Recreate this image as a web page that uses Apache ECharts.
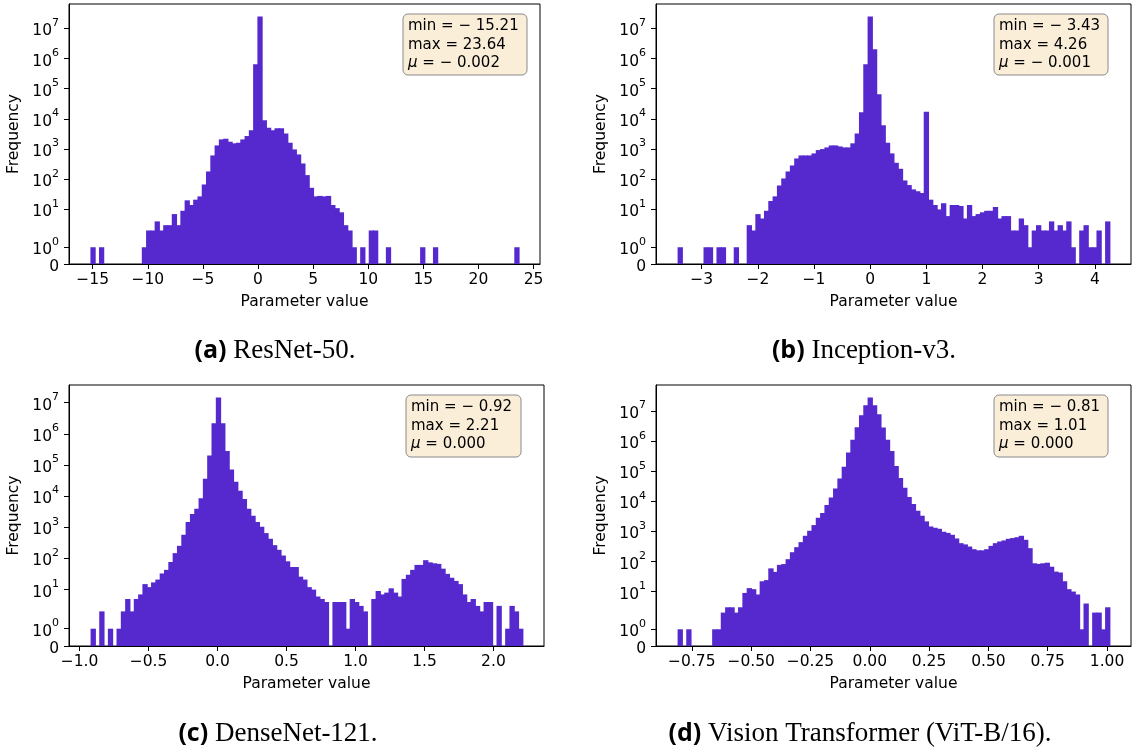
<!DOCTYPE html>
<html>
<head>
<meta charset="utf-8">
<title>Parameter value histograms</title>
<script src="https://cdn.jsdelivr.net/npm/echarts@6/dist/echarts.min.js"></script>
<style>
    html, body { margin: 0; padding: 0; background: #fff; }
    #main { width: 1132px; height: 754px; }
</style>
</head>
<body>
<div id="main"></div>
<script>
// (a) ResNet-50, 100 bins between min and max
var resnetRange = [-15.21, 23.64];
var resnetCounts = [
    1, 0, 1, 0, 0, 0, 0, 0, 0, 0, 0, 0,
    1, 2, 2, 4, 2, 3, 3, 7, 3, 9, 20, 14, 21, 27, 67, 181, 615, 1320,
    2090, 2200, 1750, 1550, 1620, 2090, 2700, 4170, 650000, 25000000,
    8950, 5100, 4170, 4900, 4900, 3310, 1620, 973, 663, 333, 137, 52,
    27, 28, 27, 28, 14, 11, 8, 3, 2, 1,
    0, 1, 0, 2, 2, 0, 0, 1, 0, 0,
    0, 0, 0, 0, 0, 1, 0, 0, 1, 0,
    0, 0, 0, 0, 0, 0, 0, 0, 0, 0,
    0, 0, 0, 0, 0, 0, 0, 1
];
var resnetTicks = [-15, -10, -5, 0, 5, 10, 15, 20, 25];
var resnetStats = ['min = \u2212 15.21', 'max = 23.64', '= \u2212 0.002'];

// (b) Inception-v3
var inceptionRange = [-3.43, 4.26];
var inceptionCounts = [
    1, 0, 0, 0, 0, 0, 1, 1, 0, 1, 1, 0, 0, 1, 0, 0,
    3, 2, 7, 5, 9, 19, 27, 62, 106, 181, 286, 489, 615, 615,
    615, 718, 925, 1000, 1135, 1320, 1320, 1220, 1135, 1135,
    1550, 3310, 16500, 650000, 25000000,
    2050000, 65000, 6100, 1620, 718, 351, 222, 91, 64, 46, 40, 35, 17400,
    21, 14, 10, 16, 6, 14, 14, 13, 5, 14, 6, 7, 8, 9, 9, 12, 5, 6, 6,
    2, 2, 5, 3, 1, 2, 3, 2, 2, 4, 2, 3, 2, 4, 1, 0, 2, 3, 1, 1, 2, 0, 4
];
var inceptionTicks = [-3, -2, -1, 0, 1, 2, 3, 4];
var inceptionStats = ['min = \u2212 3.43', 'max = 4.26', '= \u2212 0.001'];

// (c) DenseNet-121
var densenetRange = [-0.92, 2.21];
var densenetCounts = [
    1, 0, 2, 0, 1, 0, 1, 2, 5, 2, 5, 7, 15, 12, 17, 21, 33, 43, 77, 148,
    254, 575, 1475, 2670, 3960, 8550, 35900, 203000, 2200000, 14700000,
    2200000, 280000, 72000, 28700, 15000, 8100, 3900, 2360, 1475, 1040,
    652, 428, 267, 189, 124, 81, 53, 53, 26, 21,
    12, 10, 6, 5, 4, 0, 4, 4, 4, 1, 5, 4, 3, 2, 0, 5, 9, 7, 8, 11,
    8, 6, 22, 30, 43, 62, 62, 88, 75, 70, 67, 47, 32, 24, 19, 15, 7, 4, 5, 3,
    2, 4, 4, 0, 3, 0, 1, 3, 2, 1
];
var densenetTicks = [-1, -0.5, 0, 0.5, 1, 1.5, 2];
var densenetStats = ['min = \u2212 0.92', 'max = 2.21', '= 0.000'];

// (d) ViT-B/16
var vitRange = [-0.81, 1.01];
var vitCounts = [
    1, 0, 1, 0, 0, 0, 0, 0, 1, 1, 2, 3, 3, 2, 3, 9, 13, 12, 8, 22,
    24, 59, 45, 77, 82, 119, 203, 299, 439, 714,
    1050, 1620, 2850, 4080, 7550, 13300, 26500, 57000, 140000, 420000,
    1120000, 2900000, 7300000, 15700000, 28400000,
    15700000, 7900000, 2850000, 1120000, 470000, 148000, 60000, 28000, 14000, 8150,
    4880, 3320, 2150, 1460, 1320, 1220, 973, 890, 770, 582,
    406, 370, 314, 256, 235, 235, 256, 330, 406, 462,
    500, 568, 600, 640, 714, 525, 277, 87, 83, 87,
    91, 67, 46, 43, 22, 12, 10, 8, 1, 4, 0, 2, 2, 1, 3
];
var vitTicks = [-0.75, -0.5, -0.25, 0, 0.25, 0.5, 0.75, 1];
var vitStats = ['min = \u2212 0.81', 'max = 1.01', '= 0.000'];

var freqTicks = [0, 1, 10, 100, 1e3, 1e4, 1e5, 1e6, 1e7];
var freqLabels = ['{n|0}', '{n|10}{s|0}', '{n|10}{s|1}', '{n|10}{s|2}', '{n|10}{s|3}',
    '{n|10}{s|4}', '{n|10}{s|5}', '{n|10}{s|6}', '{n|10}{s|7}'];

var BAR_COLOR = '#5629ce';
var FONT = 'DejaVu Sans';
var FS = 15.5;

// symlog y scale (linthresh 2, linscale 1)
var LINTHRESH = 2;
var LINSCALE_ADJ = 1 / (1 - 1 / 10);
function symlog(v) {
    if (v <= LINTHRESH) return v * LINSCALE_ADJ;
    return LINTHRESH * (LINSCALE_ADJ + Math.log10(v / LINTHRESH));
}

function histData(counts, range) {
    var w = (range[1] - range[0]) / counts.length;
    var out = [];
    for (var i = 0; i < counts.length; i++) {
        if (!counts[i]) continue;
        out.push([range[0] + i * w, range[0] + (i + 1) * w, symlog(counts[i]), counts[i]]);
    }
    return out;
}

function fmtTick(v, dec) {
    var s = Math.abs(v).toFixed(dec);
    return (v < 0 ? '\u2212' : '') + s;
}

function renderBin(params, api) {
    var top = api.coord([api.value(0), api.value(2)]);
    var bottom = api.coord([api.value(1), 0]);
    // overlap the next bin by a pixel so no seams show
    return {
        type: 'rect',
        shape: {x: top[0], y: top[1], width: bottom[0] - top[0] + 1, height: bottom[1] - top[1]},
        style: {fill: BAR_COLOR}
    };
}

var panels = [
    {counts: resnetCounts, range: resnetRange, ticks: resnetTicks, dec: 0, stats: resnetStats,
        grid: {left: 69, top: 4, width: 471, height: 260}, box: [403, 14, 124, 61],
        caption: ['(a)', 'ResNet-50.'], capPos: [275, 351]},
    {counts: inceptionCounts, range: inceptionRange, ticks: inceptionTicks, dec: 0, stats: inceptionStats,
        grid: {left: 656, top: 4, width: 475, height: 260}, box: [994, 14, 114, 61],
        caption: ['(b)', 'Inception-v3.'], capPos: [864, 351]},
    {counts: densenetCounts, range: densenetRange, ticks: densenetTicks, dec: 1, stats: densenetStats,
        grid: {left: 69, top: 385, width: 475, height: 261}, box: [406, 395, 115, 62],
        caption: ['(c)', 'DenseNet-121.'], capPos: [278, 734]},
    {counts: vitCounts, range: vitRange, ticks: vitTicks, dec: 2, stats: vitStats,
        grid: {left: 656, top: 385, width: 475, height: 261}, box: [994, 395, 114, 62],
        caption: ['(d)', 'Vision Transformer (ViT-B/16).'], capPos: [860, 734]}
];

var grids = [], xAxes = [], yAxes = [], series = [], graphics = [];
var freqTickPos = freqTicks.map(symlog);

panels.forEach(function (p, i) {
    var span = p.range[1] - p.range[0];
    var maxCount = Math.max.apply(null, p.counts);
    grids.push({
        left: p.grid.left, top: p.grid.top, width: p.grid.width, height: p.grid.height,
        show: true, borderColor: '#000', borderWidth: 1, backgroundColor: 'transparent'
    });
    xAxes.push({
        type: 'value', gridIndex: i,
        min: p.range[0] - 0.05 * span,
        max: p.range[1] + 0.05 * span,
        name: 'Parameter value', nameLocation: 'middle', nameGap: 30,
        nameTextStyle: {fontFamily: FONT, fontSize: FS, color: '#000'},
        axisLine: {onZero: false, lineStyle: {color: '#000', width: 1}},
        axisTick: {length: 5, customValues: p.ticks, lineStyle: {color: '#000'}},
        axisLabel: {
            customValues: p.ticks, margin: 8, fontFamily: FONT, fontSize: FS, color: '#000',
            formatter: (function (dec) { return function (v) { return fmtTick(v, dec); }; })(p.dec)
        },
        splitLine: {show: false}
    });
    yAxes.push({
        type: 'value', gridIndex: i,
        min: 0, max: 1.05 * symlog(maxCount),
        name: 'Frequency', nameLocation: 'middle', nameGap: 47,
        nameTextStyle: {fontFamily: FONT, fontSize: FS, color: '#000'},
        axisLine: {show: true, onZero: false, lineStyle: {color: '#000', width: 1}},
        axisTick: {show: true, length: 5, customValues: freqTickPos, lineStyle: {color: '#000'}},
        axisLabel: {
            customValues: freqTickPos, margin: 10,
            formatter: function (v) {
                for (var k = 0; k < freqTickPos.length; k++) {
                    if (Math.abs(freqTickPos[k] - v) < 1e-6) return freqLabels[k];
                }
                return '';
            },
            rich: {
                n: {fontFamily: FONT, fontSize: FS, color: '#000', lineHeight: 22, verticalAlign: 'bottom'},
                s: {fontFamily: FONT, fontSize: 11, color: '#000', lineHeight: 22, verticalAlign: 'top'}
            }
        },
        splitLine: {show: false}
    });
    series.push({
        type: 'custom', xAxisIndex: i, yAxisIndex: i,
        renderItem: renderBin,
        encode: {x: [0, 1], y: 2},
        clip: true, silent: true,
        data: histData(p.counts, p.range)
    });

    // stats box
    graphics.push({
        type: 'rect', z: 10,
        shape: {x: p.box[0], y: p.box[1], width: p.box[2], height: p.box[3], r: 5},
        style: {fill: '#faeed9', stroke: '#8a8a8a', lineWidth: 1}
    });
    graphics.push({
        type: 'text', x: p.box[0] + 5, y: p.box[1] + 3, z: 11,
        style: {
            text: p.stats[0] + '\n' + p.stats[1] + '\n{mu|\u03bc} ' + p.stats[2],
            fontFamily: FONT, fontSize: 15, lineHeight: 18.5, fill: '#000',
            rich: {mu: {fontFamily: FONT, fontSize: 15, fontStyle: 'italic', lineHeight: 18.5, fill: '#000'}}
        }
    });
    // caption
    graphics.push({
        type: 'text', x: p.capPos[0], y: p.capPos[1],
        style: {
            text: '{b|' + p.caption[0] + '}{r| ' + p.caption[1] + '}',
            align: 'center', verticalAlign: 'middle', fill: '#000',
            rich: {
                b: {fontFamily: 'Open Sans', fontWeight: 'bold', fontSize: 25, fill: '#000'},
                r: {fontFamily: 'Liberation Serif', fontSize: 27, fill: '#000'}
            }
        }
    });
});

var chart = echarts.init(document.getElementById('main'));
chart.setOption({
    animation: false,
    backgroundColor: '#fff',
    grid: grids,
    xAxis: xAxes,
    yAxis: yAxes,
    series: series,
    graphic: graphics
});
</script>
</body>
</html>
